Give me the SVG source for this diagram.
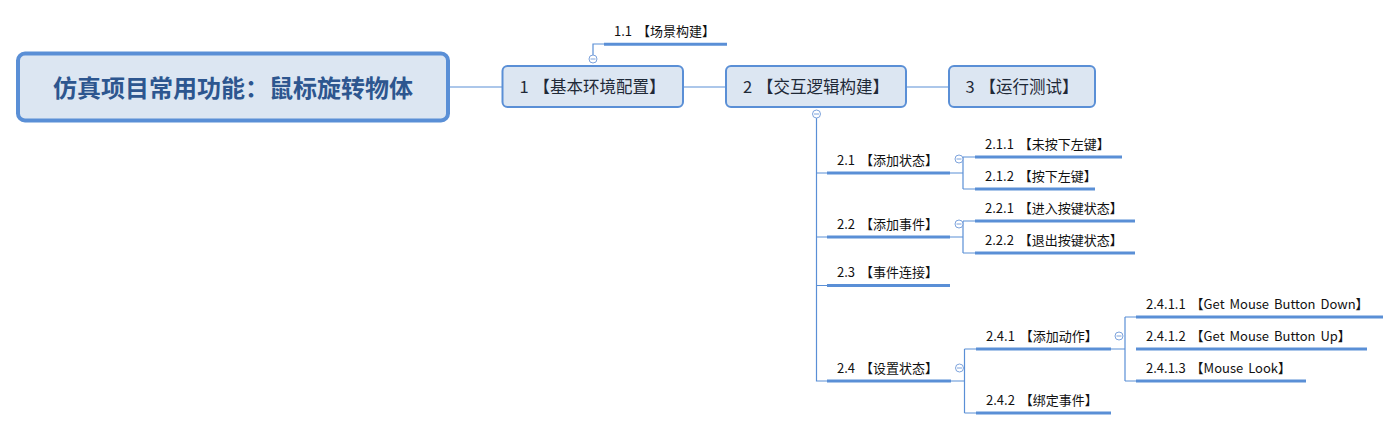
<svg xmlns="http://www.w3.org/2000/svg" width="1399" height="430" viewBox="0 0 1399 430">
<style>
text{font-family:"Noto Sans CJK SC","Noto Sans",sans-serif;}
.root{font-size:24px;font-weight:bold;fill:#2d568f;}
.mt{font-size:16.5px;fill:#1f2937;word-spacing:1px;}
.st{font-size:13px;fill:#111;word-spacing:2px;}
.box{fill:#dce6f2;stroke:#5a8fd6;stroke-width:2;}
.rbox{fill:#dce6f2;stroke:#5a8fd6;stroke-width:4;}
.ln{fill:none;stroke:#5a8fd6;stroke-width:1.2;}
.ul{stroke:#5a8fd6;stroke-width:3;}
.btn{fill:#fff;stroke:#7da3dc;stroke-width:1;}
.bm{stroke:#7da3dc;stroke-width:1;}
</style>
<rect width="1399" height="430" fill="#fff"/>
<g id="connectors">
<path class="ln" d="M449 87H502M683 87H726M906 87H949"/>
<path class="ln" d="M593 55V44H604"/>
<path class="ln" d="M816.5 118V381H827M816.5 173H827M816.5 237H827M816.5 285.5H827"/>
<path class="ln" d="M950 173H963M963 157V189M963 157H975M963 189H975"/>
<path class="ln" d="M950 237H963M963 221V253M963 221H975M963 253H975"/>
<path class="ln" d="M951 381H964.5M964.5 349V413M964.5 349H976M964.5 413H976"/>
<path class="ln" d="M1111 349H1125M1125 317V381M1125 317H1136M1125 381H1136"/>
</g>
<g id="root">
<rect class="rbox" x="18" y="53.5" width="430" height="67" rx="7"/>
<text class="root" x="233" y="96.5" text-anchor="middle">仿真项目常用功能：鼠标旋转物体</text>
</g>
<g id="n1">
<rect class="box" x="502.5" y="66" width="180.5" height="41" rx="5"/>
<text class="mt" x="592.5" y="93" text-anchor="middle">1 【基本环境配置】</text>
</g>
<g id="n1-1">
<line class="ul" x1="604" y1="44.3" x2="727" y2="44.3"/>
<text class="st" x="614" y="36">1.1 【场景构建】</text>
<circle class="btn" cx="593" cy="59" r="4"/><line class="bm" x1="590.5" y1="59" x2="595.5" y2="59"/>
</g>
<g id="n2">
<rect class="box" x="726" y="66" width="180" height="41" rx="5"/>
<text class="mt" x="816" y="93" text-anchor="middle">2 【交互逻辑构建】</text>
<circle class="btn" cx="816.5" cy="114" r="4"/><line class="bm" x1="814" y1="114" x2="819" y2="114"/>
</g>
<g id="n3">
<rect class="box" x="949" y="66" width="146" height="41" rx="5"/>
<text class="mt" x="1022" y="93" text-anchor="middle">3 【运行测试】</text>
</g>
<g id="n2-1">
<line class="ul" x1="827" y1="173" x2="950" y2="173"/>
<text class="st" x="837" y="165">2.1 【添加状态】</text>
<circle class="btn" cx="959" cy="159" r="4"/><line class="bm" x1="956.5" y1="159" x2="961.5" y2="159"/>
</g>
<g id="n2-1-1">
<line class="ul" x1="975" y1="157" x2="1122" y2="157"/>
<text class="st" x="985" y="149">2.1.1 【未按下左键】</text>
</g>
<g id="n2-1-2">
<line class="ul" x1="975" y1="189" x2="1095" y2="189"/>
<text class="st" x="985" y="181">2.1.2 【按下左键】</text>
</g>
<g id="n2-2">
<line class="ul" x1="827" y1="237" x2="950" y2="237"/>
<text class="st" x="837" y="229">2.2 【添加事件】</text>
<circle class="btn" cx="959" cy="224" r="4"/><line class="bm" x1="956.5" y1="224" x2="961.5" y2="224"/>
</g>
<g id="n2-2-1">
<line class="ul" x1="975" y1="221" x2="1135" y2="221"/>
<text class="st" x="985" y="213">2.2.1 【进入按键状态】</text>
</g>
<g id="n2-2-2">
<line class="ul" x1="975" y1="253" x2="1135" y2="253"/>
<text class="st" x="985" y="245">2.2.2 【退出按键状态】</text>
</g>
<g id="n2-3">
<line class="ul" x1="827" y1="285.5" x2="950" y2="285.5"/>
<text class="st" x="837" y="277">2.3 【事件连接】</text>
</g>
<g id="n2-4">
<line class="ul" x1="827" y1="381" x2="951" y2="381"/>
<text class="st" x="837" y="373">2.4 【设置状态】</text>
<circle class="btn" cx="959.5" cy="368" r="4"/><line class="bm" x1="957" y1="368" x2="962" y2="368"/>
</g>
<g id="n2-4-1">
<line class="ul" x1="976" y1="349" x2="1111" y2="349"/>
<text class="st" x="986" y="341">2.4.1 【添加动作】</text>
<circle class="btn" cx="1119" cy="336" r="4"/><line class="bm" x1="1116.5" y1="336" x2="1121.5" y2="336"/>
</g>
<g id="n2-4-2">
<line class="ul" x1="976" y1="413" x2="1111" y2="413"/>
<text class="st" x="986" y="405">2.4.2 【绑定事件】</text>
</g>
<g id="n2-4-1-1">
<line class="ul" x1="1136" y1="317" x2="1383" y2="317"/>
<text class="st" x="1146" y="309">2.4.1.1 【Get Mouse Button Down】</text>
</g>
<g id="n2-4-1-2">
<line class="ul" x1="1136" y1="349" x2="1367" y2="349"/>
<text class="st" x="1146" y="341">2.4.1.2 【Get Mouse Button Up】</text>
</g>
<g id="n2-4-1-3">
<line class="ul" x1="1136" y1="381" x2="1306" y2="381"/>
<text class="st" x="1146" y="373">2.4.1.3 【Mouse Look】</text>
</g>
</svg>
